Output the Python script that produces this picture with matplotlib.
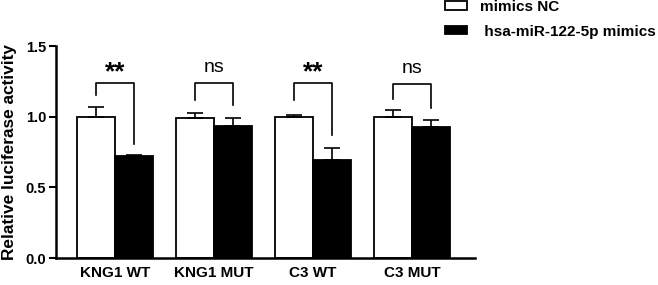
import matplotlib
matplotlib.use("Agg")
import matplotlib.pyplot as plt
import numpy as np

categories = ["KNG1 WT", "KNG1 MUT", "C3 WT", "C3 MUT"]
nc_mean = [1.00, 0.99, 1.00, 1.00]
nc_err = [0.065, 0.035, 0.012, 0.045]
mim_mean = [0.72, 0.935, 0.69, 0.925]
mim_err = [0.012, 0.057, 0.085, 0.052]
series_labels = ["mimics NC", " hsa-miR-122-5p mimics"]
sig_labels = ["**", "ns", "**", "ns"]
bracket_top = [1.24, 1.24, 1.24, 1.23]
bracket_left = [1.155, 1.12, 1.12, 1.125]
bracket_right = [0.81, 1.08, 0.87, 1.06]

plt.rcParams['font.family'] = ['Liberation Sans', 'DejaVu Sans']
plt.rcParams['font.weight'] = 'bold'

fig = plt.figure(figsize=(6.58, 2.85), dpi=100)
ax = fig.add_axes([56/658, 1-258/285, (475-56)/658, (258-46)/285])

x = np.arange(len(categories))
w = 0.38
ekw = dict(elinewidth=1.2, capthick=1.2)
ax.bar(x - w/2, nc_mean, w, color='white', edgecolor='black', linewidth=1.3,
       yerr=[np.zeros(4), nc_err], capsize=5.5, error_kw=ekw, label=series_labels[0], zorder=2)
ax.bar(x + w/2, mim_mean, w, color='black', edgecolor='black', linewidth=1.3,
       yerr=[np.zeros(4), mim_err], capsize=5.5, error_kw=ekw, label=series_labels[1], zorder=2)

for i in range(len(categories)):
    xl, xr = x[i] - w/2, x[i] + w/2
    ax.plot([xl, xl, xr, xr], [bracket_left[i], bracket_top[i], bracket_top[i], bracket_right[i]],
            color='black', lw=1.2, zorder=3)
    if sig_labels[i] == "**":
        ax.text(x[i], bracket_top[i] + 0.025, sig_labels[i], ha='center', va='baseline',
                fontsize=19, fontweight='bold')
    else:
        ax.text(x[i], bracket_top[i] + 0.076, sig_labels[i], ha='center', va='baseline',
                fontsize=14, fontweight='normal')

ax.set_xlim(-0.596, 3.636)
ax.set_ylim(0, 1.5)
ax.set_yticks([0, 0.5, 1.0, 1.5])
ax.set_yticklabels(["0.0", "0.5", "1.0", "1.5"])
ax.set_xticks(x)
ax.set_xticklabels(categories)
ax.tick_params(axis='x', length=0, pad=6, labelsize=11)
ax.tick_params(axis='y', length=5, width=1.5, pad=2, labelsize=10.5)
for lab in ax.get_xticklabels() + ax.get_yticklabels():
    lab.set_fontweight('bold')
ax.set_ylabel("Relative luciferase activity", fontsize=12.4, fontweight='bold', labelpad=6)
for s in ['top', 'right']:
    ax.spines[s].set_visible(False)
for s in ['left', 'bottom']:
    ax.spines[s].set_linewidth(1.8)

fig.legend(loc='upper left', bbox_to_anchor=(445/658, 1.0), frameon=False,
           fontsize=11, handlelength=1.44, handleheight=0.46, handletextpad=0.85,
           labelspacing=0.7, borderpad=0, borderaxespad=0)

fig.savefig("out.png", dpi=100)
